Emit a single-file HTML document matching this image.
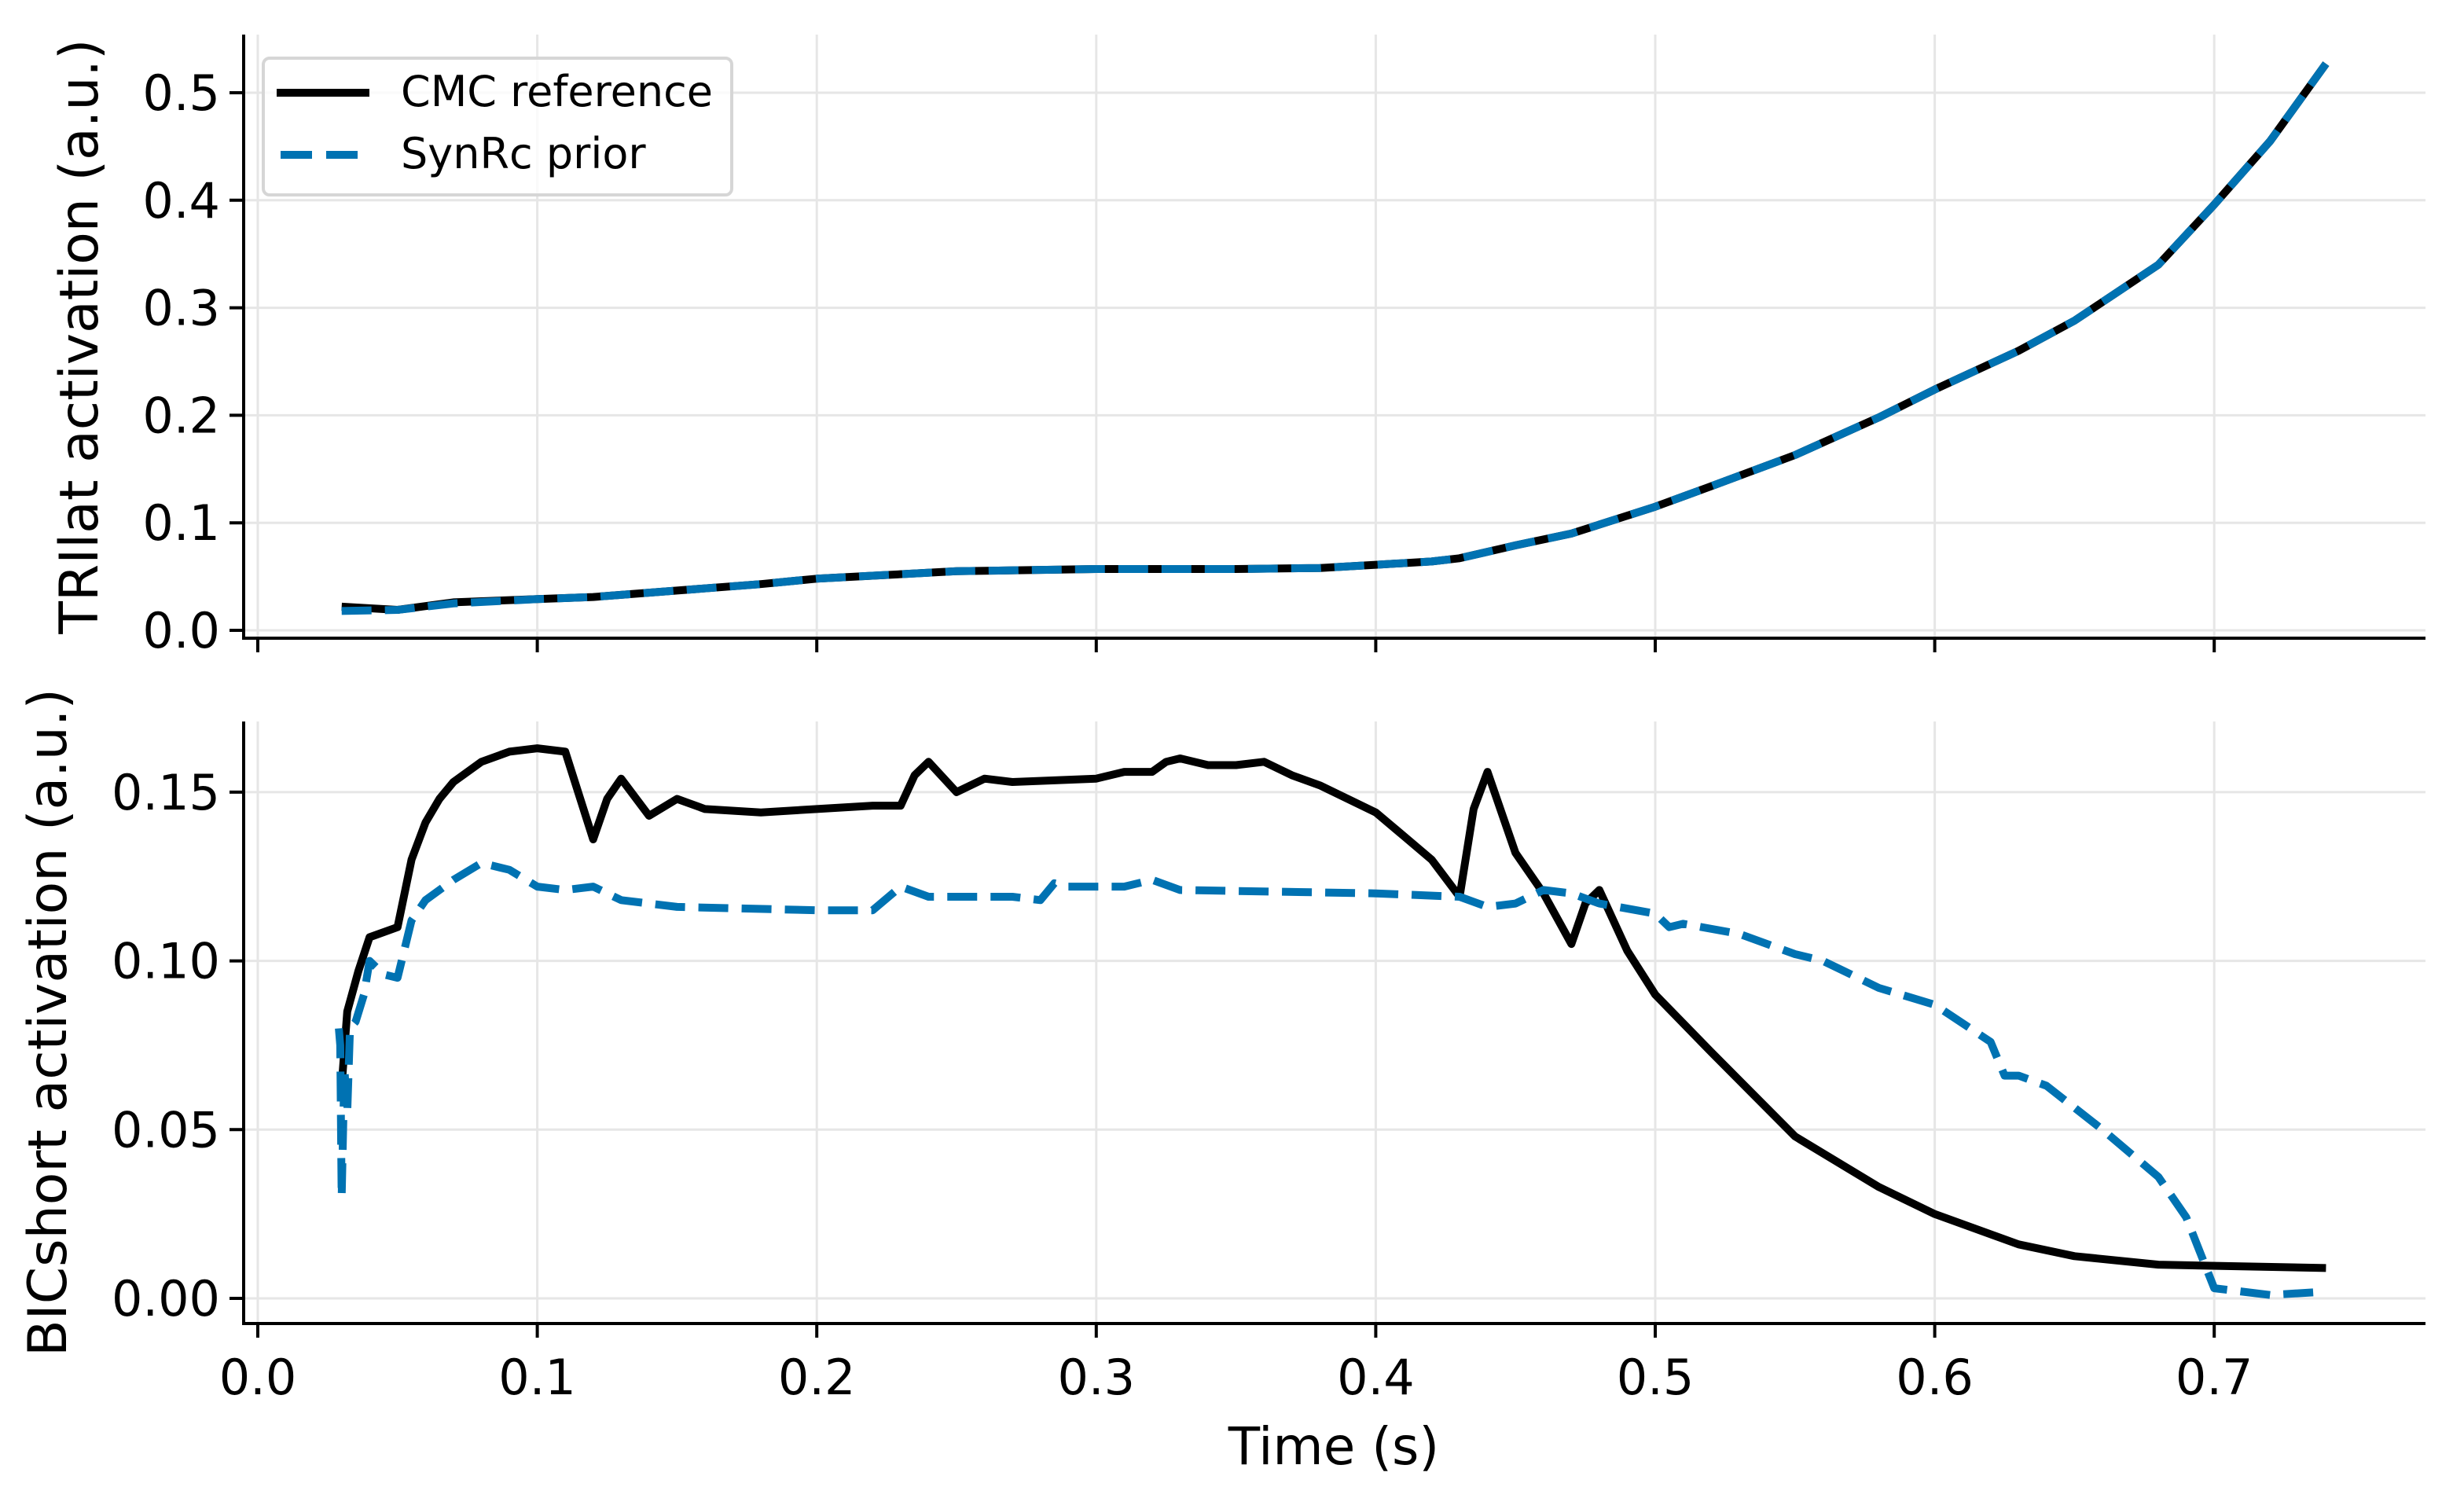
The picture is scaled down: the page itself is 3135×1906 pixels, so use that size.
<!DOCTYPE html>
<html><head><meta charset="utf-8"><style>
html,body{margin:0;padding:0;background:#fff;}
svg{display:block;font-family:"DejaVu Sans","Liberation Sans",sans-serif;}
</style></head><body>
<svg id="fig" width="3135" height="1906" viewBox="0 0 3135 1906" xmlns="http://www.w3.org/2000/svg">
<g id="top"></g>
<g id="bot"></g>
<g id="legend">
  <rect x="335" y="74" width="596" height="174" rx="8" fill="#fff" fill-opacity="0.8" stroke="#d6d6d6" stroke-width="4"/>
  <line x1="352" y1="118" x2="470" y2="118" stroke="#000" stroke-width="10"/>
  <text x="510" y="135" font-size="54">CMC reference</text>
  <line x1="357" y1="197" x2="466" y2="197" stroke="#0072B2" stroke-width="10" stroke-dasharray="40,18"/>
  <text x="510" y="214" font-size="54">SynRc prior</text>
</g>
<text x="1697" y="1863" font-size="66" text-anchor="middle">Time (s)</text>
</svg>
<script>
// ---- data ----
const xTicks = [0.0,0.1,0.2,0.3,0.4,0.5,0.6,0.7];
const topTicks = [0.0,0.1,0.2,0.3,0.4,0.5];
const botTicks = [0.00,0.05,0.10,0.15];
const topTime = [0.03,0.05,0.07,0.1,0.12,0.15,0.18,0.2,0.25,0.3,0.35,0.38,0.4,0.42,0.43,0.45,0.47,0.5,0.52,0.55,0.58,0.6,0.63,0.65,0.68,0.7,0.72,0.74];
const topCMC = [0.022,0.019,0.026,0.029,0.031,0.037,0.043,0.048,0.055,0.057,0.057,0.058,0.061,0.064,0.067,0.079,0.09,0.115,0.134,0.163,0.198,0.224,0.26,0.288,0.34,0.396,0.455,0.527];
const topSyn = [0.018,0.019,0.025,0.029,0.031,0.037,0.043,0.048,0.055,0.057,0.057,0.058,0.061,0.064,0.067,0.079,0.09,0.115,0.134,0.163,0.198,0.224,0.26,0.288,0.34,0.396,0.455,0.527];
const cmcTime = [0.03,0.032,0.036,0.04,0.05,0.055,0.06,0.065,0.07,0.08,0.09,0.1,0.11,0.12,0.125,0.13,0.14,0.15,0.16,0.18,0.2,0.22,0.23,0.235,0.24,0.25,0.26,0.27,0.3,0.31,0.32,0.325,0.33,0.34,0.35,0.36,0.37,0.38,0.4,0.41,0.42,0.43,0.435,0.44,0.445,0.45,0.46,0.47,0.475,0.48,0.49,0.5,0.52,0.55,0.58,0.6,0.63,0.65,0.68,0.74];
const cmcVal = [0.063,0.085,0.097,0.107,0.11,0.13,0.141,0.148,0.153,0.159,0.162,0.163,0.162,0.136,0.148,0.154,0.143,0.148,0.145,0.144,0.145,0.146,0.146,0.155,0.159,0.150,0.154,0.153,0.154,0.156,0.156,0.159,0.160,0.158,0.158,0.159,0.155,0.152,0.144,0.137,0.130,0.119,0.145,0.156,0.144,0.132,0.120,0.105,0.117,0.121,0.103,0.090,0.073,0.048,0.033,0.025,0.016,0.0125,0.010,0.009];
const synTime = [0.029,0.0295,0.030,0.031,0.032,0.033,0.035,0.038,0.04,0.045,0.05,0.055,0.06,0.07,0.08,0.09,0.1,0.11,0.12,0.13,0.14,0.15,0.2,0.22,0.23,0.24,0.27,0.28,0.285,0.29,0.31,0.32,0.33,0.4,0.43,0.44,0.45,0.46,0.47,0.48,0.5,0.505,0.51,0.53,0.55,0.56,0.58,0.6,0.62,0.625,0.63,0.64,0.66,0.68,0.69,0.7,0.72,0.74];
const synVal = [0.080,0.075,0.030,0.068,0.055,0.080,0.082,0.090,0.100,0.096,0.095,0.112,0.118,0.124,0.129,0.127,0.122,0.121,0.122,0.118,0.117,0.116,0.115,0.115,0.122,0.119,0.119,0.118,0.123,0.122,0.122,0.124,0.121,0.120,0.119,0.116,0.117,0.121,0.120,0.117,0.114,0.110,0.111,0.108,0.102,0.100,0.092,0.087,0.076,0.066,0.066,0.063,0.050,0.036,0.024,0.003,0.001,0.002];

// ---- axes ----
const X0=310, X1=3086;
const xS = v => 328 + v*3556;
const yTop = v => 802 - v*1368;
const yBot = v => 1652 - v*4294;
const NS="http://www.w3.org/2000/svg";
function mk(tag, attrs, parent){const e=document.createElementNS(NS,tag);for(const k in attrs)e.setAttribute(k,attrs[k]);parent.appendChild(e);return e;}

function panel(g, yF, ticks, fmt, top, bottom, ylabel, ylabelName, labelX, showXLabels, series){
  for(const t of xTicks){
    const gl=mk('line',{x1:xS(t),x2:xS(t),y1:top,y2:bottom,stroke:'#e6e6e6','stroke-width':3},g);
    
    
    const tk=mk('line',{x1:xS(t),x2:xS(t),y1:bottom,y2:bottom+18,stroke:'#000','stroke-width':4},g);
    
    
    if(showXLabels){
      const tx=mk('text',{x:xS(t),y:bottom+90,'font-size':62,'text-anchor':'middle'},g);
      tx.textContent=t.toFixed(1);
      
      
    }
  }
  for(const t of ticks){
    const gl=mk('line',{x1:X0,x2:X1,y1:yF(t),y2:yF(t),stroke:'#e6e6e6','stroke-width':3},g);
    
    
    const tk=mk('line',{x1:X0-18,x2:X0,y1:yF(t),y2:yF(t),stroke:'#000','stroke-width':4},g);
    
    
    const tx=mk('text',{x:X0-30,y:yF(t)+22,'font-size':62,'text-anchor':'end'},g);
    tx.textContent=fmt(t);
    
    
  }
  for(const s of series){
    const d=s.t.map((t,i)=>(i?'L':'M')+xS(t).toFixed(1)+','+yF(s.v[i]).toFixed(1)).join(' ');
    const p=mk('path',{d:d,fill:'none',stroke:s.c,'stroke-width':10,'stroke-linejoin':'round','stroke-dasharray':s.dash||'none'},g);
    
    
  }
  const sp1=mk('line',{x1:X0,x2:X0,y1:top,y2:bottom+2,stroke:'#000','stroke-width':4},g);
  
  
  const sp2=mk('line',{x1:X0-2,x2:X1,y1:bottom,y2:bottom,stroke:'#000','stroke-width':4},g);
  
  
  const cy=(top+bottom)/2;
  const yl=mk('text',{x:labelX,y:cy,'font-size':68,'text-anchor':'middle',transform:`rotate(-90 ${labelX} ${cy})`},g);
  yl.textContent=ylabel;
  
  
}
panel(document.getElementById('top'), yTop, topTicks, v=>v.toFixed(1), 44, 812, 'TRIlat activation (a.u.)','top-y-axis-title',124,false,
  [{t:topTime,v:topCMC,c:'#000',name:'cmc-reference-line-top'},{t:topTime,v:topSyn,c:'#0072B2',dash:'38,17',name:'synrc-prior-line-top'}]);
panel(document.getElementById('bot'), yBot, botTicks, v=>v.toFixed(2), 918, 1684, 'BICshort activation (a.u.)','bottom-y-axis-title',84,true,
  [{t:cmcTime,v:cmcVal,c:'#000',name:'cmc-reference-line-bottom'},{t:synTime,v:synVal,c:'#0072B2',dash:'38,17',name:'synrc-prior-line-bottom'}]);
document.getElementById('fig').appendChild(document.getElementById('legend'));
</script>
</body></html>
